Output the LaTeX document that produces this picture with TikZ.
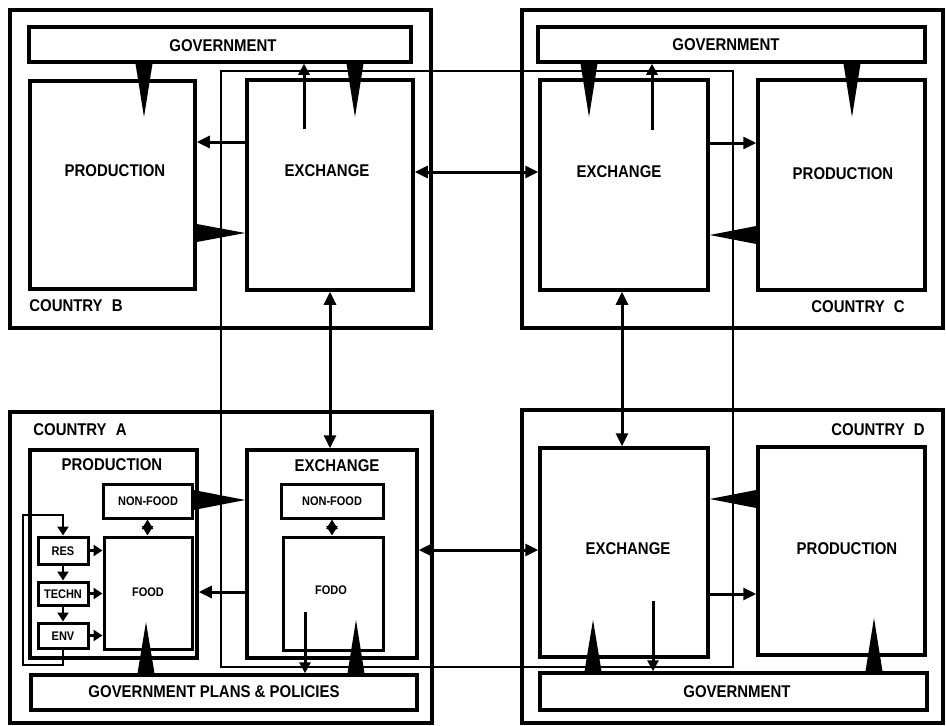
\documentclass[tikz,border=0pt]{standalone}
\usepackage{fontspec}
\setmainfont{Liberation Sans}[FakeStretch=0.88]
\usetikzlibrary{arrows.meta,calc}
\newcommand\mkbox[6]{\node[#6, minimum width={(#4)-(#2)}, minimum height={(#5)-(#3)}] (#1) at ({((#2)+(#4))/2},{((#3)+(#5))/2}) {};}
\newcommand\wdg[3]{\fill ($(#1)!#3!90:(#2)$) -- (#2) -- ($(#1)!#3!-90:(#2)$) -- cycle;}
\begin{document}
\begin{tikzpicture}[x=1pt,y=-1pt,
  country/.style={draw, rectangle, line width=4.5pt, inner sep=0pt},
  box/.style={draw, rectangle, line width=3.5pt, inner sep=0pt},
  sbox/.style={draw, rectangle, line width=3pt, inner sep=0pt},
  bus/.style={draw, rectangle, line width=2pt, inner sep=0pt},
  lbl/.style={font=\fontsize{17}{20}\selectfont\bfseries, inner sep=0pt},
  sml/.style={font=\fontsize{12.5}{14}\selectfont\bfseries, inner sep=0pt},
  arr/.style={line width=3pt, -{Triangle[length=13pt,width=12pt]}},
  darr/.style={line width=3pt, {Triangle[length=13pt,width=12pt]}-{Triangle[length=13pt,width=12pt]}},
  uarr/.style={line width=3pt, -{Triangle[length=11pt,width=11pt]}},
  sarr/.style={line width=2.5pt, -{Triangle[length=9pt,width=11pt]}},
  diam/.style={line width=2.5pt, {Triangle[length=9.5pt,width=11pt]}-{Triangle[length=9.5pt,width=11pt]}}
]
\useasboundingbox (0,0) rectangle (946,726);
% ---------- Country B ----------
\mkbox{cB}{10}{10}{431}{328}{country}
\mkbox{gB}{29}{27}{411}{62}{box}
\mkbox{pB}{30}{81}{195}{289}{box}
\mkbox{xB}{247}{80}{413}{290}{box}
\node[lbl] (tgB) at (223,46) {GOVERNMENT};
\node[lbl] (tpB) at (115,171) {PRODUCTION};
\node[lbl] (txB) at (327,171) {EXCHANGE};
\node[lbl] (tcB) at (76,306) {COUNTRY\hspace{5pt} B};
% ---------- Country C ----------
\mkbox{cC}{522}{10}{943}{328}{country}
\mkbox{gC}{538}{27}{925}{62}{box}
\mkbox{xC}{540}{80}{708}{290}{box}
\mkbox{pC}{758}{80}{925}{290}{box}
\node[lbl] (tgC) at (726,45) {GOVERNMENT};
\node[lbl] (txC) at (619,172) {EXCHANGE};
\node[lbl] (tpC) at (843,174) {PRODUCTION};
\node[lbl] (tcC) at (858,307) {COUNTRY\hspace{5pt} C};
% ---------- Country A ----------
\mkbox{cA}{10}{412}{432}{723}{country}
\mkbox{pA}{30}{450}{197}{658}{box}
\mkbox{xA}{247}{450}{417}{658}{box}
\mkbox{gA}{31}{675}{417}{710}{box}
\mkbox{nfA}{103}{484}{192}{518}{sbox}
\mkbox{fA}{104}{537}{192}{649}{sbox}
\mkbox{res}{38}{537}{88}{564}{sbox}
\mkbox{techn}{38}{582}{88}{605}{sbox}
\mkbox{env}{38}{623}{88}{648}{sbox}
\mkbox{nfX}{281}{484}{383}{518}{sbox}
\mkbox{fX}{283}{537}{383}{650}{sbox}
\node[lbl] (tcA) at (80,430) {COUNTRY\hspace{5pt} A};
\node[lbl] (tpA) at (112,465) {PRODUCTION};
\node[lbl] (txA) at (337,466) {EXCHANGE};
\node[sml] (tnfA) at (148,501) {NON-FOOD};
\node[sml] (tnfX) at (332,501) {NON-FOOD};
\node[sml] (tfA) at (148,592) {FOOD};
\node[sml] (tfX) at (331,590) {FODO};
\node[sml] (tres) at (63,551) {RES};
\node[sml] (ttechn) at (63,594) {TECHN};
\node[sml] (tenv) at (63,636) {ENV};
\node[lbl] (tgA) at (214,692) {GOVERNMENT PLANS \& POLICIES};
% ---------- Country D ----------
\mkbox{cD}{522}{410}{943}{723}{country}
\mkbox{xD}{540}{448}{708}{657}{box}
\mkbox{pD}{758}{447}{925}{655}{box}
\mkbox{gD}{540}{673}{927}{710}{box}
\node[lbl] (tcD) at (878,430) {COUNTRY\hspace{5pt} D};
\node[lbl] (txD) at (628,549) {EXCHANGE};
\node[lbl] (tpD) at (847,549) {PRODUCTION};
\node[lbl] (tgD) at (737,692) {GOVERNMENT};
% ---------- exchange bus ----------
\mkbox{bus}{221}{71}{733}{667}{bus}
% ---------- helper coordinates ----------
\coordinate (yB1) at (0,142);
\coordinate (yB2) at (0,233);
\coordinate (yC1) at (0,143);
\coordinate (yC2) at (0,235);
\coordinate (yBC) at (0,172);
\coordinate (yAD) at (0,550);
\coordinate (xBA) at (330,0);
\coordinate (xCD) at (622,0);
\coordinate (yA1) at (0,500);
\coordinate (yA2) at (0,592);
\coordinate (yD1) at (0,499);
\coordinate (yD2) at (0,594);
\coordinate (tB1) at (144,117);
\coordinate (tB2) at (355,117);
\coordinate (tC1) at (589,117);
\coordinate (tC2) at (852,117);
\coordinate (tA1) at (146,622);
\coordinate (tA2) at (356,620);
\coordinate (tD1) at (593,620);
\coordinate (tD2) at (874,618);
\coordinate (sB) at (304,129);
\coordinate (sC) at (652,130);
\coordinate (sA) at (305,612);
\coordinate (sD) at (653,601);
\coordinate (lpA) at (23,665);
\coordinate (lpB) at (63,515);
% ---------- inter-country arrows ----------
\draw[darr] (xB.east |- yBC) -- (xC.west |- yBC);
\draw[darr] (xA.east |- yAD) -- (xD.west |- yAD);
\draw[darr] (xB.south -| xBA) -- (xA.north -| xBA);
\draw[darr] (xC.south -| xCD) -- (xD.north -| xCD);
% ---------- country B flows ----------
\draw[arr] (xB.west |- yB1) -- (pB.east |- yB1);
\draw[uarr] (sB) -- (gB.south -| sB);
\wdg{gB.south -| tB1}{tB1}{8.5pt}
\wdg{gB.south -| tB2}{tB2}{8.5pt}
\wdg{pB.east |- yB2}{xB.west |- yB2}{9pt}
% ---------- country C flows ----------
\draw[arr] (xC.east |- yC1) -- (pC.west |- yC1);
\draw[uarr] (sC) -- (gC.south -| sC);
\wdg{gC.south -| tC1}{tC1}{8.5pt}
\wdg{gC.south -| tC2}{tC2}{8.5pt}
\wdg{pC.west |- yC2}{xC.east |- yC2}{9pt}
% ---------- country A flows ----------
\draw[arr] (xA.west |- yA2) -- (pA.east |- yA2);
\wdg{nfA.east |- yA1}{xA.west |- yA1}{10pt}
\wdg{gA.north -| tA1}{tA1}{8.5pt}
\wdg{gA.north -| tA2}{tA2}{8.5pt}
\draw[uarr] (sA) -- (gA.north -| sA);
\draw[diam] (nfA.south) -- (fA.north -| nfA.south);
\draw[diam] (nfX.south) -- (fX.north -| nfX.south);
\draw[sarr] (res.south) -- (techn.north);
\draw[sarr] (techn.south) -- (env.north);
\draw[sarr] (res.east) -- (fA.west |- res.east);
\draw[sarr] (techn.east) -- (fA.west |- techn.east);
\draw[sarr] (env.east) -- (fA.west |- env.east);
\draw[sarr] (env.south) |- (lpA) |- (lpB) -- (res.north);
% ---------- country D flows ----------
\draw[arr] (xD.east |- yD2) -- (pD.west |- yD2);
\wdg{pD.west |- yD1}{xD.east |- yD1}{9pt}
\wdg{gD.north -| tD1}{tD1}{8.5pt}
\wdg{gD.north -| tD2}{tD2}{8.5pt}
\draw[uarr] (sD) -- (gD.north -| sD);
\end{tikzpicture}
\end{document}
